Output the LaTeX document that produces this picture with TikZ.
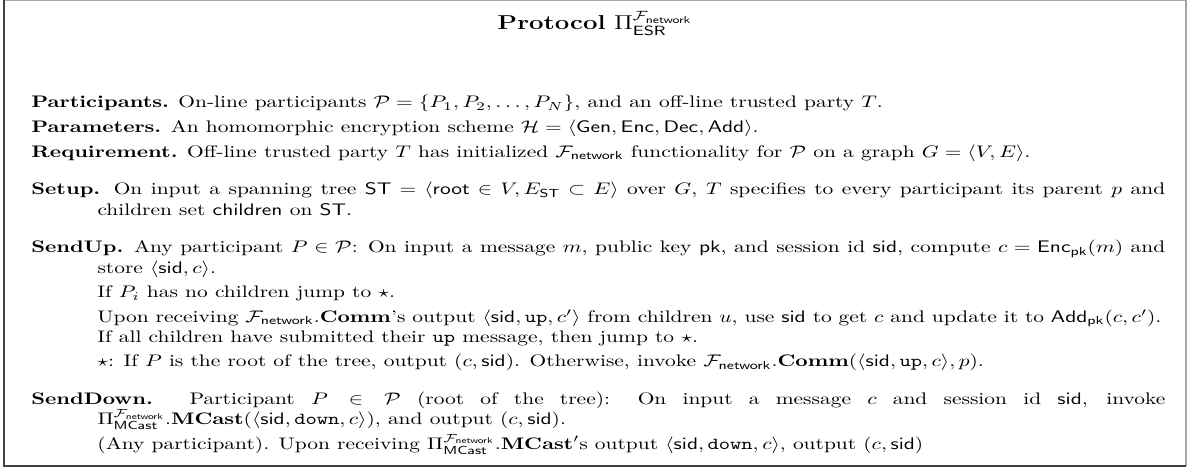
\documentclass[tikz,border=0pt]{standalone}
\usepackage{amsmath}
\usepackage{amssymb}
\usepackage{xcolor}
\usepackage{tikz}
\usetikzlibrary{positioning}
\newcommand{\Fnet}{\mathcal{F}_{\mathsf{network}}}
\newcommand{\sid}{\mathsf{sid}}
\newcommand{\pk}{\mathsf{pk}}
\newcommand{\ST}{\mathsf{ST}}
\newcommand{\msgup}{\mathtt{up}}
\newcommand{\msgdown}{\mathtt{down}}
\newcommand{\Comm}{\mathbf{Comm}}
\newcommand{\MCast}{\mathbf{MCast}}
\newcommand{\PiMC}{\Pi^{\Fnet}_{\mathsf{MCast}}}

\begin{document}
\begin{tikzpicture}[
    x=0.466pt, y=-0.466pt,
    frame/.style={line width=0.7pt},
    flat/.style={yscale=0.78},
    entry/.style={flat, anchor=base west, inner sep=0pt, text width=528.4pt, align=justify,
        execute at begin node={\baselineskip=12pt\lineskiplimit=-10pt\hangindent=30.8pt\hangafter=1}},
    subentry/.style={flat, anchor=base west, inner sep=0pt, text width=495.8pt, align=justify,
        execute at begin node={\baselineskip=12pt\lineskiplimit=-10pt}}
]

\useasboundingbox (0,0) rectangle (1187,468);
\draw[frame,black!35] (4,0) -- (1186,0) -- (1186,466);
\draw[frame,black!75] (4,0) -- (4,466) -- (1186,466);

\node[flat,anchor=base,font=\large] (title) at (595,30)
    {\textbf{Protocol} $\Pi^{\Fnet}_{\mathsf{ESR}}$};

\node[entry] (participants) at (31,108)
    {\textbf{Participants.} On-line participants $\mathcal{P}=\{P_1,P_2,\ldots,P_N\}$, and an off-line trusted party $T$.};
\node[entry] (parameters) at (31,132.6)
    {\textbf{Parameters.} An homomorphic encryption scheme $\mathcal{H}=\langle\mathsf{Gen},\mathsf{Enc},\mathsf{Dec},\mathsf{Add}\rangle$.};
\node[entry] (requirement) at (31,157.2)
    {\textbf{Requirement.} Off-line trusted party $T$ has initialized $\Fnet$ functionality for $\mathcal{P}$ on a graph $G=\langle V,E\rangle$.};

\node[entry] (setup) at (31,195)
    {\textbf{Setup.} On input a spanning tree $\ST=\langle\mathsf{root}\in V,E_{\ST}\subset E\rangle$ over $G$, $T$ specifies to every participant its parent $p$ and children set $\mathsf{children}$ on $\ST$.};

\node[entry] (sendup) at (31,253)
    {\textbf{SendUp.} Any participant $P\in\mathcal{P}$: On input a message $m$, public key $\pk$, and session id $\sid$, compute $c=\mathsf{Enc}_{\pk}(m)$ and store $\langle\sid,c\rangle$.};
\node[subentry] (noleaf) at (97,297.6)
    {If $P_i$ has no children jump to $\star$.};
\node[subentry] (receive) at (97,322.2)
    {Upon receiving $\Fnet.\Comm$'s output $\langle\sid,\msgup,c'\rangle$ from children $u$, use $\sid$ to get $c$ and update it to $\mathsf{Add}_{\pk}(c,c')$. If all children have submitted their $\msgup$ message, then jump to $\star$.};
\node[subentry] (star) at (97,366.9)
    {$\star$: If $P$ is the root of the tree, output $(c,\sid)$. Otherwise, invoke $\Fnet.\Comm(\langle\sid,\msgup,c\rangle,p)$.};

\node[entry] (senddown) at (31,404.7)
    {\textbf{SendDown.} Participant $P\in\mathcal{P}$ (root of the tree): On input a message $c$ and session id $\sid$, invoke $\PiMC.\MCast(\langle\sid,\msgdown,c\rangle)$, and output $(c,\sid)$.};
\node[subentry] (anyone) at (97,449.6)
    {(Any participant). Upon receiving $\PiMC.\MCast'$s output $\langle\sid,\msgdown,c\rangle$, output $(c,\sid)$};

\end{tikzpicture}
\end{document}
